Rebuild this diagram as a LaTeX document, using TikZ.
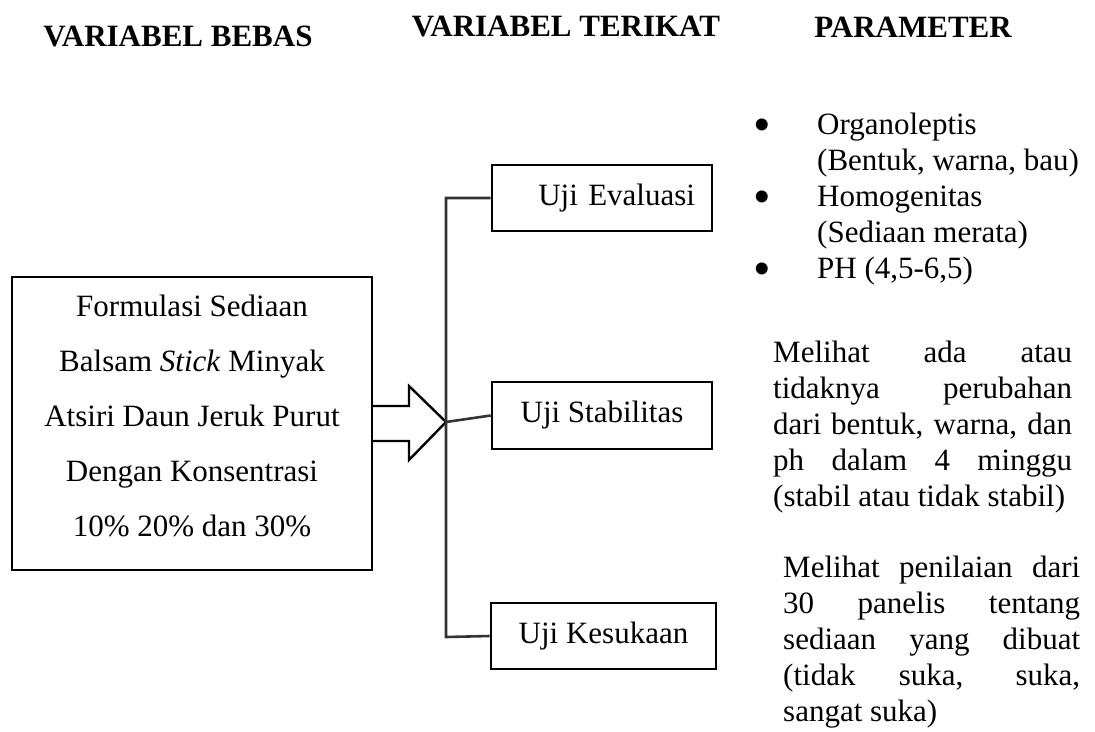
\documentclass[tikz,border=0pt]{standalone}
\usepackage{fontspec}
\setmainfont{Liberation Serif}
\usepackage{tikz}
\usetikzlibrary{positioning}

\tikzset{
  txt/.style={font=\fontsize{31}{36}\selectfont, inner sep=0pt},
  kotak/.style={draw, line width=2.6pt, font=\fontsize{31}{36}\selectfont},
  judul/.style={font=\fontsize{31}{36}\selectfont\bfseries},
  cabang/.style={line width=2.6pt, draw=black!80}
}
\newcommand{\butir}{\raisebox{-7pt}{\fontsize{50}{36}\selectfont •}}

\begin{document}
\begin{tikzpicture}[x=1pt, y=-1pt]
    \useasboundingbox (0,0) rectangle (1095,731);
    % judul kolom
    \node[judul] (jbebas) at (178,36) {VARIABEL BEBAS};
    \node[judul] (jterikat) at (566,27) {VARIABEL TERIKAT};
    \node[judul] (jparam) at (913,27) {PARAMETER};

    % variabel bebas
    \node[kotak, minimum width=360pt, minimum height=293pt] (formula) at (192,423.5) {};
    \node[txt, align=center, font=\fontsize{31}{55}\selectfont] (formulateks) at (192,416)
      {Formulasi Sediaan\\ Balsam \textit{Stick} Minyak\\ Atsiri Daun Jeruk Purut\\ Dengan Konsentrasi\\ 10\% 20\% dan 30\%};

    % variabel terikat
    \node[kotak, minimum width=220pt, minimum height=66pt, text width=186pt, inner xsep=17pt,
          align=right] (evaluasi) at (602,198) {Uji Evaluasi};
    \node[kotak, minimum width=220pt, minimum height=67pt] (stabilitas) at (602,415.5) {Uji Stabilitas};
    \node[kotak, minimum width=225pt, minimum height=66pt] (kesukaan) at (603.5,636) {Uji Kesukaan};

    % panah blok
    \coordinate (tip) at (446,422);
    \draw[line width=2.4pt, line join=miter] (373,406) -- (409,406) -- (409,386) -- (tip)
      -- (409,460) -- (409,441) -- (373,441);

    % garis cabang
    \coordinate (atas) at (446,198);
    \coordinate (bawah) at (446,637);
    \draw[cabang] (evaluasi.west) -- (atas) -- (bawah) -- (kesukaan.west);
    \draw[cabang] (tip) -- (stabilitas.west);

    % parameter
    \node[txt, anchor=base west] (evalparam) at (753,134)
      {\begin{tabular}[t]{@{}p{64pt}@{}l@{}}
        \butir & Organoleptis\\
               & (Bentuk, warna, bau)\\
        \butir & Homogenitas\\
               & (Sediaan merata)\\
        \butir & PH (4,5-6,5)
      \end{tabular}};
    \node[txt, anchor=north west, text width=299pt, align=justify] (stabparam) at (773,341)
      {Melihat ada atau\linebreak tidaknya perubahan\linebreak dari bentuk, warna, dan\linebreak
       ph dalam 4 minggu\linebreak (stabil atau tidak stabil)};
    \node[txt, anchor=north west, text width=297pt, align=justify] (sukaparam) at (783,556)
      {Melihat penilaian dari\linebreak 30 panelis tentang\linebreak sediaan yang dibuat\linebreak
       (tidak suka, suka,\linebreak sangat suka)};
\end{tikzpicture}
\end{document}
